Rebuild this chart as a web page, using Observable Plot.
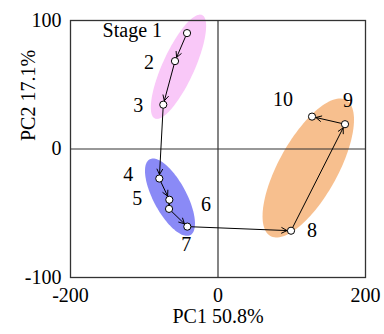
<!DOCTYPE html>
<html>
<head>
<meta charset="utf-8">
<script src="https://cdn.jsdelivr.net/npm/d3@7"></script>
<script src="https://cdn.jsdelivr.net/npm/@observablehq/plot@0.6"></script>
<style>
  html, body { margin: 0; padding: 0; background: #fff; }
</style>
</head>
<body>
<div id="chart"></div>
<script>
// ---- data ----
const stages = ["Stage 1", "2", "3", "4", "5", "6", "7", "8", "9", "10"];
const pc1 = [-42, -58.3, -74.2, -79.6, -66, -66.4, -41.6, 99, 172.2, 127.5];
const pc2 = [90.2, 68.4, 34.5, -23, -39.5, -46.6, -60.4, -63.6, 19.3, 25.2];

// confidence ellipses of the three stage groups (centre, spread, correlation)
const groups = ["early", "middle", "late"];
const groupCX = [-53.6, -65.1, 122.4];
const groupCY = [64, -37.5, -14.8];
const groupSX = [37.5, 33.9, 62.0];
const groupSY = [40.6, 30.1, 54.1];
const groupRho = [0.778, -0.68, 0.694];

const xTicks = [-200, 0, 200];
const yTicks = [-100, 0, 100];
const xLabel = "PC1 50.8%";
const yLabel = "PC2 17.1%";

// ---- styles ----
const groupColors = ["#f9c8f8", "#8a8af6", "#f7bf8e"];
const labelStyle = {
  "Stage 1": {textAnchor: "end", dx: -25, dy: -2},
  "2": {textAnchor: "end", dx: -21, dy: 1},
  "3": {textAnchor: "end", dx: -20, dy: 1},
  "4": {textAnchor: "end", dx: -26, dy: -4},
  "5": {textAnchor: "end", dx: -27, dy: -1},
  "6": {textAnchor: "start", dx: 32, dy: -4},
  "7": {textAnchor: "middle", dx: -1, dy: 18},
  "8": {textAnchor: "start", dx: 16, dy: 0},
  "9": {textAnchor: "middle", dx: 3, dy: -24},
  "10": {textAnchor: "middle", dx: -29, dy: -17}
};
const font = "'Liberation Serif', 'Times New Roman', serif";

// ---- derived tables ----
const pts = stages.map((s, i) => ({stage: s, x: pc1[i], y: pc2[i]}));
const segs = pts.slice(1).map((p, i) => ({x1: pts[i].x, y1: pts[i].y, x2: p.x, y2: p.y}));

function ellipseOutline(g) {
  const out = [];
  const n = 120;
  const r = groupRho[g];
  for (let k = 0; k <= n; k++) {
    const t = (2 * Math.PI * k) / n;
    const c = Math.cos(t), s = Math.sin(t);
    out.push({
      x: groupCX[g] + groupSX[g] * c,
      y: groupCY[g] + groupSY[g] * (r * c + Math.sqrt(1 - r * r) * s)
    });
  }
  return out;
}

const marks = [];
groups.forEach((g, i) => {
  marks.push(Plot.line(ellipseOutline(i), {x: "x", y: "y", fill: groupColors[i], stroke: "none", curve: "linear-closed"}));
});
marks.push(Plot.ruleX([0], {stroke: "#333", strokeWidth: 1.2}));
marks.push(Plot.ruleY([0], {stroke: "#333", strokeWidth: 1.2}));
marks.push(Plot.frame({stroke: "#333", strokeWidth: 1.3}));
marks.push(Plot.arrow(segs, {x1: "x1", y1: "y1", x2: "x2", y2: "y2", stroke: "#000", strokeWidth: 1, headLength: 9, headAngle: 55, insetEnd: 4}));
marks.push(Plot.dot(pts, {x: "x", y: "y", r: 3.6, fill: "#fff", stroke: "#000", strokeWidth: 1}));
pts.forEach(p => {
  const st = labelStyle[p.stage];
  marks.push(Plot.text([p], {x: "x", y: "y", text: "stage", fontSize: 20, fontFamily: font, fill: "#000", ...st}));
});
marks.push(Plot.axisX({ticks: xTicks, tickSize: 0, tickPadding: 10, tickFormat: d => String(d), fontSize: 20, fontFamily: font, fill: "#000", label: null}));
marks.push(Plot.axisY({ticks: yTicks, tickSize: 0, tickPadding: 9, tickFormat: d => String(d), fontSize: 20, fontFamily: font, fill: "#000", label: null}));
marks.push(Plot.text([xLabel], {text: d => d, frameAnchor: "bottom", dy: 45, fontSize: 20, fontFamily: font, fill: "#000"}));
marks.push(Plot.text([yLabel], {text: d => d, frameAnchor: "left", dx: -42, dy: -8, rotate: -90, fontSize: 20, fontFamily: font, fill: "#000"}));

const chart = Plot.plot({
  width: 384,
  height: 334,
  marginLeft: 70,
  marginRight: 19,
  marginTop: 20,
  marginBottom: 57,
  style: {fontFamily: font, background: "#fff", color: "#000"},
  x: {domain: [-200, 200]},
  y: {domain: [-100, 100]},
  marks
});
document.getElementById("chart").appendChild(chart);
</script>
</body>
</html>
